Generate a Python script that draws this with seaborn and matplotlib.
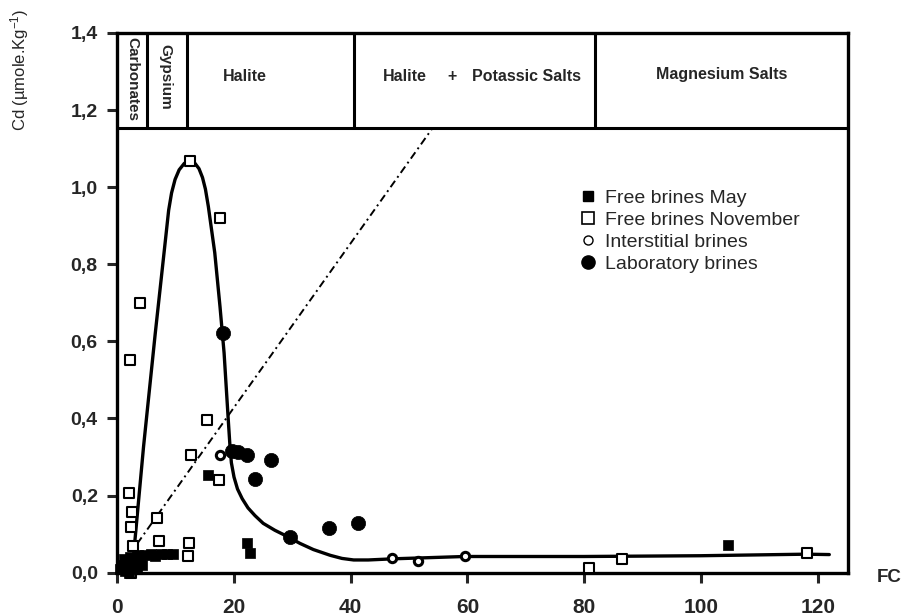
import matplotlib
matplotlib.use("Agg")
import matplotlib.pyplot as plt
import seaborn as sns
import pandas as pd
from matplotlib.lines import Line2D

# ---------------- data ----------------
may_x = [0.4, 0.9, 1.3, 1.8, 2.2, 2.6, 3.0, 3.4, 3.9, 4.3, 1.1, 2.0, 3.6,
         4.8, 5.8, 6.5, 7.5, 8.5, 9.6, 15.5, 22.2, 22.8, 104.7]
may_y = [0.010, 0.020, 0.005, 0.030, 0.040, 0.015, 0.025, 0.010, 0.030, 0.020,
         0.035, 0.000, 0.045, 0.046, 0.048, 0.042, 0.048, 0.048, 0.048,
         0.253, 0.076, 0.050, 0.071]

nov_x = [12.45, 17.6, 3.9, 2.2, 15.4, 12.7, 17.5, 2.05, 2.5, 2.3, 2.75, 6.75,
         7.2, 12.3, 12.2, 2.3, 80.8, 86.4, 118.2]
nov_y = [1.068, 0.919, 0.700, 0.552, 0.397, 0.306, 0.241, 0.206, 0.158, 0.118,
         0.069, 0.141, 0.083, 0.078, 0.042, 0.000, 0.013, 0.035, 0.050]

inter_x = [17.6, 47.0, 51.5, 59.5]
inter_y = [0.305, 0.037, 0.031, 0.043]

lab_x = [18.15, 19.6, 20.6, 22.2, 26.3, 23.6, 29.6, 36.2, 41.2]
lab_y = [0.622, 0.316, 0.314, 0.305, 0.292, 0.242, 0.093, 0.116, 0.128]

curve_x = [2.6, 3.0, 4.5, 6.5, 8.3, 8.8, 9.3, 9.9, 10.6, 11.5, 12.45, 13.3,
           14.0, 14.6, 15.1, 15.6, 16.7, 17.6, 18.3, 19.0, 19.3, 19.55, 20.0,
           20.6, 21.4, 22.4, 23.6, 25.0, 27.0, 29.0, 31.3, 33.6, 36.5, 38.5,
           40.5, 43.0, 47.3, 59.5, 80.0, 100.0, 118.0, 122.0]
curve_y = [0.015, 0.080, 0.327, 0.620, 0.870, 0.940, 0.985, 1.020, 1.045, 1.062,
           1.067, 1.062, 1.048, 1.025, 0.995, 0.950, 0.830, 0.690, 0.570, 0.400,
           0.330, 0.285, 0.248, 0.217, 0.192, 0.168, 0.148, 0.128, 0.110, 0.095,
           0.076, 0.060, 0.045, 0.037, 0.033, 0.033, 0.036, 0.042, 0.042, 0.044,
           0.048, 0.047]

# dash-dot dilution line
dil_x = [3.4, 54.0]
dil_y = [0.075, 1.153]

# header (mineral sequence)
header_bottom = 1.153
header_dividers = [5.03, 11.9, 40.6, 81.9]

x_ticks = [0, 20, 40, 60, 80, 100, 120]
y_ticks = [0.0, 0.2, 0.4, 0.6, 0.8, 1.0, 1.2, 1.4]
y_ticklabels = ["0,0", "0,2", "0,4", "0,6", "0,8", "1,0", "1,2", "1,4"]

legend_labels = ["Free brines May", "Free brines November",
                 "Interstitial brines", "Laboratory brines"]

# ---------------- figure ----------------
sns.set_style("white")
plt.rcParams['font.family'] = ['Liberation Sans', 'DejaVu Sans']
plt.rcParams['mathtext.fontset'] = 'custom'
plt.rcParams['mathtext.rm'] = 'Liberation Sans'
plt.rcParams['mathtext.it'] = 'Liberation Sans'

fig = plt.figure(figsize=(9.05, 6.15), dpi=100)
ax = fig.add_axes([0.1296, 0.0688, 0.8074, 0.8776])

sns.lineplot(x=curve_x, y=curve_y, sort=False, estimator=None, color='black',
             linewidth=2.4, ax=ax, zorder=2)
sns.lineplot(x=dil_x, y=dil_y, sort=False, estimator=None, color='black',
             linewidth=1.4, linestyle=(0, (4, 2, 1, 2)), ax=ax, zorder=2)

sns.scatterplot(x=may_x, y=may_y, marker='s', color='black', edgecolor='black',
                s=55, linewidth=0.5, ax=ax, zorder=4, clip_on=False)
sns.scatterplot(x=nov_x, y=nov_y, marker='s', color='white', edgecolor='black',
                s=62, linewidth=1.5, ax=ax, zorder=3, clip_on=False)
sns.scatterplot(x=inter_x, y=inter_y, marker='o', color='white', edgecolor='black',
                s=36, linewidth=2.2, ax=ax, zorder=5, clip_on=False)
sns.scatterplot(x=lab_x, y=lab_y, marker='o', color='black', edgecolor='black',
                s=105, linewidth=0.5, ax=ax, zorder=4, clip_on=False)

ax.set_xlim(0, 125.2)
ax.set_ylim(0, 1.4)
ax.set_xticks(x_ticks)
ax.set_xticklabels([str(v) for v in x_ticks], fontsize=15, fontweight='bold')
ax.set_yticks(y_ticks)
ax.set_yticklabels(y_ticklabels, fontsize=14, fontweight='bold')
ax.tick_params(axis='x', direction='out', length=7, width=2.2, pad=11, bottom=True)
ax.tick_params(axis='y', direction='out', length=7, width=2.2, pad=7, left=True)
for sp in ax.spines.values():
    sp.set_linewidth(2.4)
    sp.set_color('black')
ax.set_xlabel("")
ax.set_ylabel("")

# header box
ax.plot([0, 125.2], [header_bottom, header_bottom], color='black', lw=2.2,
        clip_on=False, zorder=6)
for xd in header_dividers:
    ax.plot([xd, xd], [header_bottom, 1.4], color='black', lw=2.2, zorder=6)

hdr = dict(fontsize=11.5, fontweight='bold', ha='center', va='center')
ax.text(2.5, 1.28, "Carbonates", rotation=270, fontsize=11,
        fontweight='bold', ha='center', va='center')
ax.text(8.2, 1.285, "Gypsium", rotation=270, fontsize=11,
        fontweight='bold', ha='center', va='center')
ax.text(21.9, 1.287, "Halite", **hdr)
ax.text(49.2, 1.287, "Halite", **hdr)
ax.text(57.3, 1.287, "+", **hdr)
ax.text(70.1, 1.287, "Potassic Salts", **hdr)
ax.text(103.6, 1.293, "Magnesium Salts", **hdr)

# legend
handles = [
    Line2D([], [], ls='none', marker='s', markersize=7.5, mfc='black', mec='black'),
    Line2D([], [], ls='none', marker='s', markersize=8, mfc='white', mec='black', mew=1.2),
    Line2D([], [], ls='none', marker='o', markersize=6.5, mfc='white', mec='black', mew=1.0),
    Line2D([], [], ls='none', marker='o', markersize=9.5, mfc='black', mec='black'),
]
ax.legend(handles, legend_labels, loc='upper left', bbox_to_anchor=(0.634, 0.71),
          frameon=False, fontsize=14, handlelength=0.8, handletextpad=0.45,
          labelspacing=0.22, borderpad=0, borderaxespad=0)

fig.text(20 / 905, 1 - 70 / 615, r"Cd (µmole.Kg$^{-1}$)", rotation=90,
         fontsize=12, ha='center', va='center')
fig.text(877 / 905, 1 - 577 / 615, "FC", fontsize=13.5, fontweight='bold',
         ha='left', va='center')

fig.savefig("out.png", dpi=100)
